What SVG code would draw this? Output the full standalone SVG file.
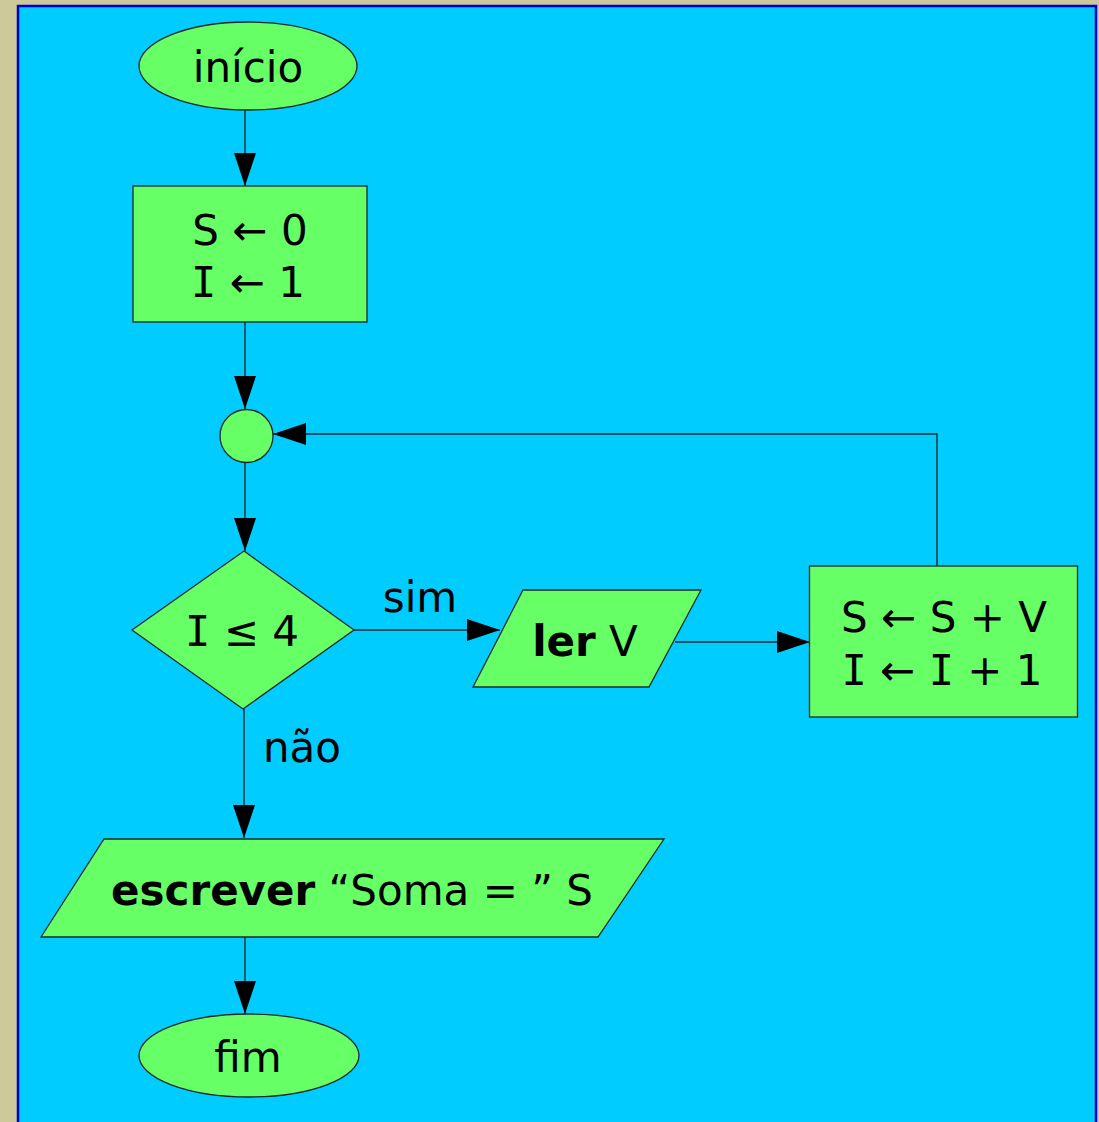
<svg xmlns="http://www.w3.org/2000/svg" width="1099" height="1122" viewBox="0 0 1099 1122">
  <style>
    .shape { fill: #66FF66; stroke: #1a2a2a; stroke-width: 1.3; }
    .edge { fill: none; stroke: #1a2a2a; stroke-width: 1.4; }
    .lbl { font-family: "DejaVu Sans", Verdana, sans-serif; font-size: 42px; fill: #000; text-anchor: middle; }
    .b { font-weight: bold; }
    .i { font-family: "DejaVu Sans Mono", monospace; }
  </style>
  <defs>
    <marker id="arrow" markerUnits="userSpaceOnUse" markerWidth="34" markerHeight="24" refX="33" refY="11" orient="auto">
      <path d="M0,0 L33,11 L0,22 Z" fill="#000"/>
    </marker>
  </defs>

  <!-- page and panel -->
  <rect x="0" y="0" width="1099" height="1122" fill="#CDC99A"/>
  <rect x="18" y="6" width="1078" height="1130" fill="#00CCFF" stroke="#0000CC" stroke-width="2.5"/>

  <!-- connectors -->
  <g id="connectors">
    <line class="edge" x1="245" y1="110" x2="245" y2="186" marker-end="url(#arrow)"/>
    <line class="edge" x1="245" y1="322" x2="245" y2="409" marker-end="url(#arrow)"/>
    <line class="edge" x1="245" y1="463" x2="245" y2="551" marker-end="url(#arrow)"/>
    <line class="edge" x1="354" y1="630" x2="500" y2="630" marker-end="url(#arrow)"/>
    <line class="edge" x1="675" y1="642" x2="810" y2="642" marker-end="url(#arrow)"/>
    <polyline class="edge" points="937,566 937,434 273,434" marker-end="url(#arrow)"/>
    <line class="edge" x1="244" y1="709" x2="244" y2="838" marker-end="url(#arrow)"/>
    <line class="edge" x1="245" y1="937" x2="245" y2="1014" marker-end="url(#arrow)"/>
    <text class="lbl" x="420" y="612">sim</text>
    <text class="lbl" x="302" y="762">não</text>
  </g>

  <g id="inicio">
    <ellipse class="shape" cx="248" cy="66" rx="109" ry="44"/>
    <text class="lbl" x="248" y="82">início</text>
  </g>

  <g id="init">
    <rect class="shape" x="133" y="186" width="234" height="136"/>
    <text class="lbl" x="250" y="245">S ← 0</text>
    <text class="lbl" x="248" y="297"><tspan class="i">I</tspan> ← 1</text>
  </g>

  <g id="junction">
    <circle class="shape" cx="246.5" cy="436" r="26.5"/>
  </g>

  <g id="cond">
    <polygon class="shape" points="244,551 354,630 243,709 132,630"/>
    <text class="lbl" x="242" y="646"><tspan class="i">I</tspan> ≤ 4</text>
  </g>

  <g id="read">
    <polygon class="shape" points="523,590 701,590 649,687 473,687"/>
    <text class="lbl" x="585" y="656"><tspan class="b">ler</tspan> V</text>
  </g>

  <g id="update">
    <rect class="shape" x="809.5" y="566" width="268" height="151"/>
    <text class="lbl" x="944" y="632">S ← S + V</text>
    <text class="lbl" x="942" y="685"><tspan class="i">I</tspan> ← <tspan class="i">I</tspan> + 1</text>
  </g>

  <g id="write">
    <polygon class="shape" points="104,839 664,839 598,937 41,937"/>
    <text class="lbl" x="352" y="905"><tspan class="b">escrever</tspan> “Soma = ” S</text>
  </g>

  <g id="fim">
    <ellipse class="shape" cx="249" cy="1055.5" rx="110" ry="41.5"/>
    <text class="lbl" x="248" y="1072">fim</text>
  </g>
</svg>
